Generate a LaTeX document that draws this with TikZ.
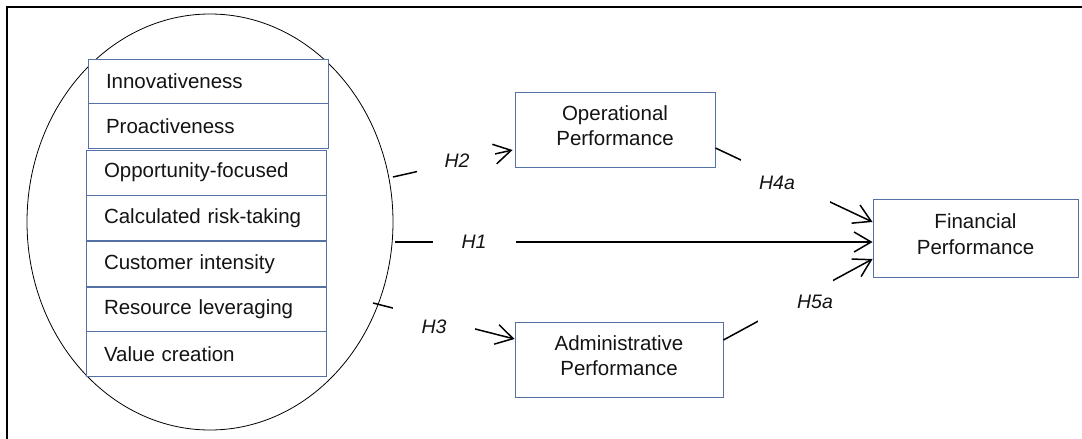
\documentclass[tikz,border=0pt]{standalone}
\usepackage{fontspec}
\setmainfont{Liberation Sans}
\usetikzlibrary{shapes.geometric,arrows.meta,calc}
\definecolor{boxblue}{RGB}{84,114,165}
\definecolor{ink}{RGB}{20,20,20}
\newcommand{\lowpad}{\rule[-8pt]{0pt}{8pt}}
\begin{document}
\begin{tikzpicture}[x=1pt,y=-1pt,
  every node/.style={text=ink},
  rowbox/.style={draw=boxblue,fill=white,line width=0.9pt,minimum height=45pt,
    text width=204pt,inner xsep=18pt,inner ysep=0pt,align=left,
    font=\fontsize{20.5}{25}\selectfont},
  perfbox/.style={draw=boxblue,fill=white,line width=0.9pt,inner sep=0pt,align=center,
    font=\fontsize{20.5}{25.5}\selectfont},
  conn/.style={line width=1.5pt,-{Straight Barb[length=17pt,width=20pt]}},
  gapmask/.style={fill=white,inner sep=0pt},
  hlab/.style={inner sep=0pt,font=\fontsize{19.5}{22}\selectfont\itshape}]
\clip (0,0) rectangle (1082,439);
\useasboundingbox (0,0) rectangle (1082,439);
\draw[line width=2pt] (7,7) rectangle (1100,460);
% ellipse
\node[ellipse,draw=black,line width=0.8pt,minimum width=366pt,minimum height=416pt,inner sep=0pt] (ell) at (210,222) {};
% rows
\node[rowbox] (r1) at (208,81.5) {Innovativeness};
\node[rowbox] (r2) at (208,126) {Proactiveness};
\node[rowbox] (r3) at (206,172.5) {Opportunity-focused};
\node[rowbox] (r4) at (206,218) {Calculated risk-taking};
\node[rowbox] (r5) at (206,264) {Customer intensity};
\node[rowbox] (r6) at (206,309.5) {Resource leveraging};
\node[rowbox] (r7) at (206,354) {Value creation};
% performance boxes
\node[perfbox,minimum width=200pt,minimum height=75pt] (op) at (615,129.5) {Operational\\Performance\lowpad};
\node[perfbox,minimum width=208pt,minimum height=75pt] (adm) at (619,359.5) {Administrative\\Performance\lowpad};
\node[perfbox,minimum width=205pt,minimum height=78pt] (fin) at (975.5,238) {Financial\\Performance\lowpad};
% connector start points
\coordinate (s1) at (395,242);
\coordinate (s2) at (393,177);
\coordinate (s3) at (373,303);
% connectors
\draw[conn] (s1) -- ($(fin.west)+(0,4)$);
\draw[conn] (s2) -- ($(op.west)+(-2,20.5)$);
\draw[conn] (s3) -- ($(adm.west)+(0,-20.5)$);
\draw[conn] ($(op.east)+(0,18.5)$) -- ($(fin.west)+(0,-16)$);
\draw[conn] ($(adm.east)+(0,-19.5)$) -- ($(fin.west)+(0,21)$);
% gaps in the connectors behind the labels
\node[gapmask,minimum width=83pt,minimum height=12pt] (g1) at (474.5,242) {};
\node[gapmask,minimum width=78pt,minimum height=26pt] (g2) at (456,162) {};
\node[gapmask,minimum width=82pt,minimum height=30pt] (g3) at (434,319.5) {};
\node[gapmask,minimum width=89pt,minimum height=48pt] (g4) at (785.5,181) {};
\node[gapmask,minimum width=75pt,minimum height=46pt] (g5) at (795.5,301.5) {};
% labels
\node[hlab] (h1) at (474,242) {H1};
\node[hlab] (h2) at (457,161) {H2};
\node[hlab] (h3) at (434,327) {H3};
\node[hlab] (h4) at (777,183) {H4a};
\node[hlab] (h5) at (815,302) {H5a};
\end{tikzpicture}
\end{document}
